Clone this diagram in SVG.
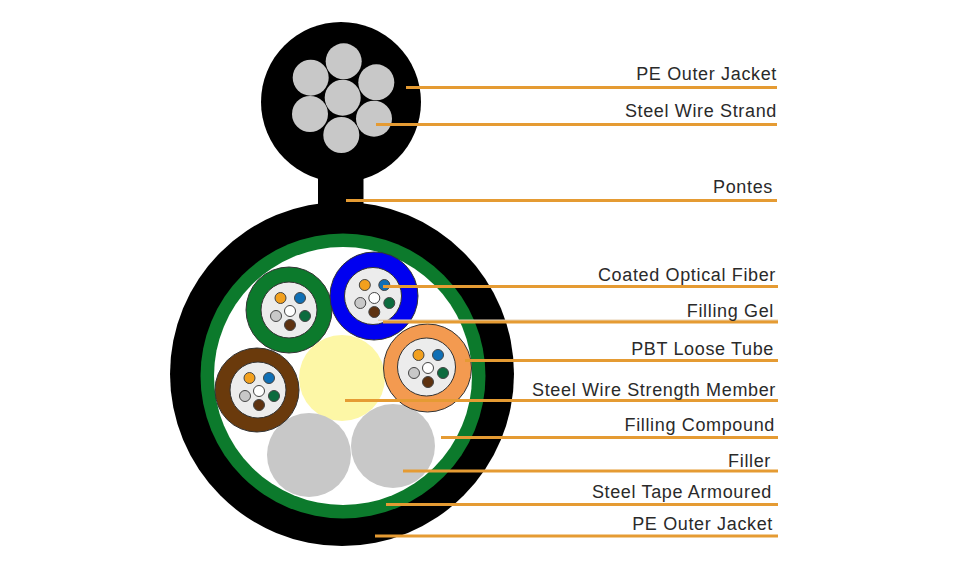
<svg xmlns="http://www.w3.org/2000/svg" width="959" height="566" viewBox="0 0 959 566">
<style>
.bk{fill:#000}
.w{fill:#c8c8c8}
.core{fill:#ececec;stroke:#333;stroke-width:1}
.f{stroke:#444;stroke-width:1}
.t{stroke:#333;stroke-width:1}
.l{stroke:#e59b33;stroke-width:3;fill:none}
text{font-family:"Liberation Sans",Arial,sans-serif;font-size:18px;fill:#2a2a2a;text-anchor:end;letter-spacing:.65px}
</style>
<defs>
<g id="fibers">
<circle r="5.500" cx="-9.500" cy="-13" fill="#f2a01e" class="f"/>
<circle r="5.500" cx="10" cy="-13" fill="#0f6fb5" class="f"/>
<circle r="5.500" cx="-14" cy="5" fill="#c8c8c8" class="f"/>
<circle r="5.500" cx="15" cy="5" fill="#0c6b3e" class="f"/>
<circle r="5.500" cx="0" cy="14" fill="#5e3210" class="f"/>
<circle r="5.500" cx="0" cy="0" fill="#fff" class="f"/>
</g>
</defs>
<rect width="959" height="566" fill="#fff"/>
<g id="messenger">
<circle cx="341" cy="102" r="80" class="bk"/>
<rect x="318" y="170" width="45.500" height="45" class="bk"/>
<circle cx="342.700" cy="97.700" r="18" class="w"/>
<circle cx="343.700" cy="61.300" r="18" class="w"/>
<circle cx="310.700" cy="77.700" r="18" class="w"/>
<circle cx="376.300" cy="82.300" r="18" class="w"/>
<circle cx="310" cy="114" r="18" class="w"/>
<circle cx="374" cy="118.700" r="18" class="w"/>
<circle cx="341.300" cy="135" r="18" class="w"/>
</g>
<g id="cable">
<circle cx="342" cy="374" r="172" class="bk"/>
<circle cx="343" cy="376" r="142.500" fill="#0c7a2c"/>
<circle cx="343" cy="376" r="129" fill="#fff"/>
</g>
<g id="fillers">
<circle cx="342" cy="378" r="43" fill="#fdf7a6"/>
<circle cx="309" cy="455" r="42" fill="#c8c8c8"/>
<circle cx="393" cy="446" r="42" fill="#c8c8c8"/>
</g>
<g id="tube-green">
<circle cx="289" cy="310" r="43" fill="#0c7a2c" class="t"/>
<circle cx="289" cy="310" r="28" class="core"/>
<use href="#fibers" x="290" y="311"/>
</g>
<g id="tube-blue">
<circle cx="374" cy="296" r="44" fill="#0000f0" class="t"/>
<circle cx="373" cy="296" r="28.500" class="core"/>
<use href="#fibers" x="374.300" y="298"/>
</g>
<g id="tube-brown">
<circle cx="257" cy="390" r="42" fill="#6a3a0c" class="t"/>
<circle cx="258" cy="390" r="28" class="core"/>
<use href="#fibers" x="259" y="391"/>
</g>
<g id="tube-orange">
<circle cx="427.500" cy="368" r="44" fill="#f39a50" class="t"/>
<circle cx="426.500" cy="367" r="29" class="core"/>
<use href="#fibers" x="428" y="368"/>
</g>
<g id="connectors">
<path class="l" d="M406 87.500H777"/>
<path class="l" d="M376 124.500H777"/>
<path class="l" d="M346 200.500H777"/>
<path class="l" d="M383 286.500H778"/>
<path d="M378 320.200H778" stroke="#e8d2b4" stroke-width="1.500" fill="none"/>
<path class="l" d="M383 322H778"/>
<path class="l" d="M465 360.500H778"/>
<path class="l" d="M345 400.500H778"/>
<path class="l" d="M441 437.500H778"/>
<path class="l" d="M403 471H778"/>
<path class="l" d="M386 504.500H778"/>
<path class="l" d="M375 536H778"/>
</g>
<g id="labels">
<text x="777" y="80">PE Outer Jacket</text>
<text x="777" y="117">Steel Wire Strand</text>
<text x="773" y="193">Pontes</text>
<text x="776" y="281">Coated Optical Fiber</text>
<text x="774" y="317">Filling Gel</text>
<text x="774" y="355">PBT Loose Tube</text>
<text x="776" y="396">Steel Wire Strength Member</text>
<text x="775" y="431">Filling Compound</text>
<text x="771" y="467">Filler</text>
<text x="772" y="498">Steel Tape Armoured</text>
<text x="773" y="530">PE Outer Jacket</text>
</g>
</svg>
